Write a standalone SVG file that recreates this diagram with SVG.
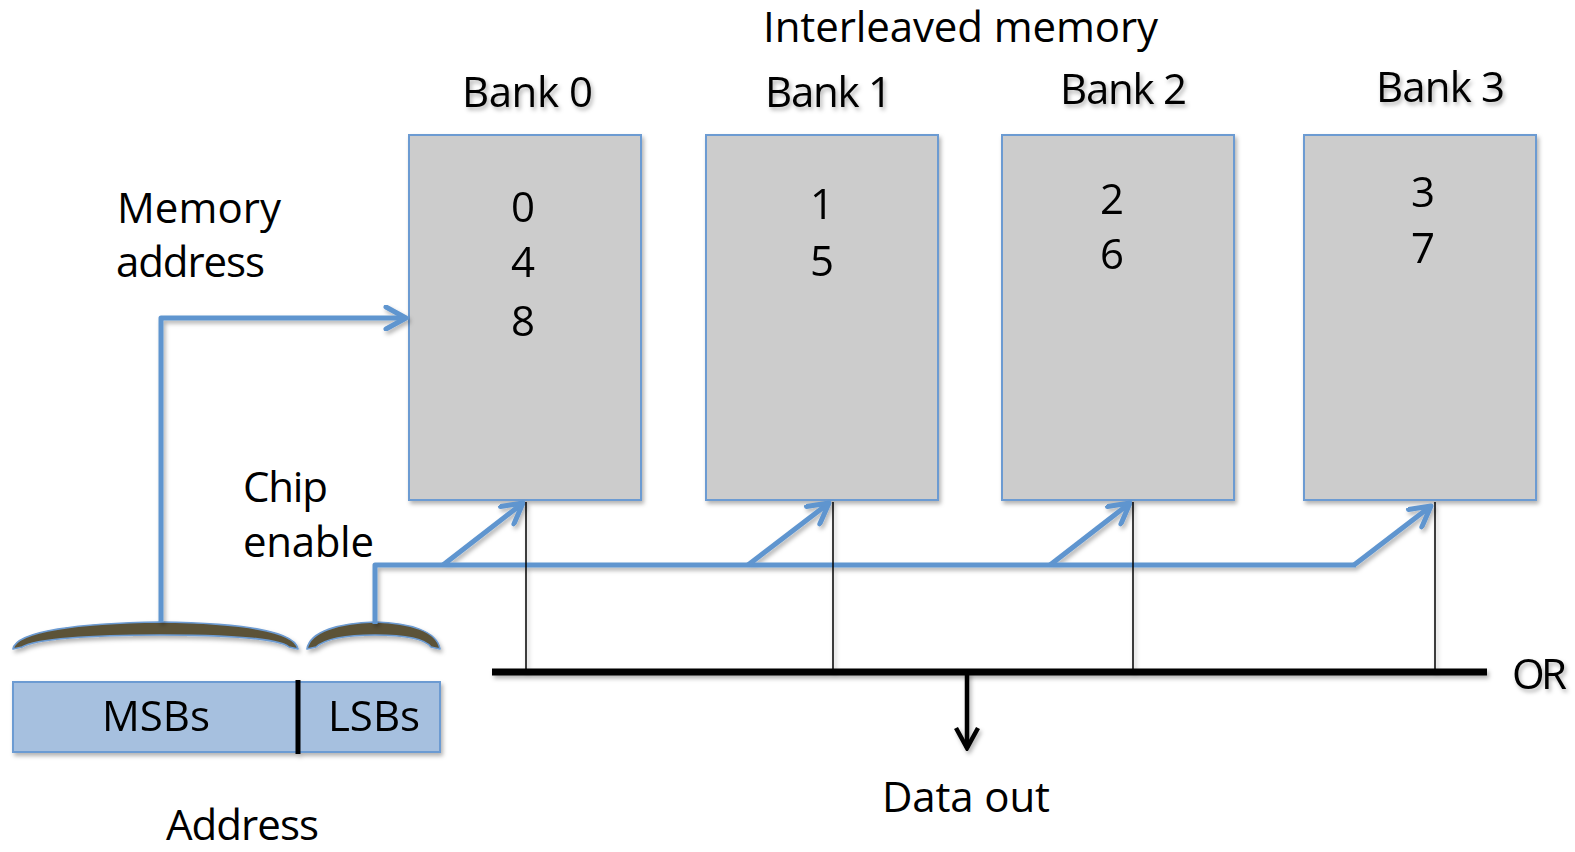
<svg xmlns="http://www.w3.org/2000/svg" width="1575" height="852" viewBox="0 0 1575 852">
  <style>
    text { font-family: "Open Sans", "Noto Sans", "Liberation Sans", sans-serif; font-size: 42px; fill: #000; }
    .mid { text-anchor: middle; }
    .bank { fill: #cccccc; stroke: #6c9bd2; stroke-width: 2; }
    .blue { fill: none; stroke: #5f95cf; stroke-width: 5; stroke-linejoin: round; }
    .thin { fill: none; stroke: #000; stroke-width: 1.5; }
    .field { fill: #a6c0df; stroke: #6c9bd2; stroke-width: 2; }
    .brace { fill: #5c5238; stroke: #6c9bd2; stroke-width: 1.6; stroke-linejoin: round; }
  </style>
  <defs>
    <filter id="shadow" x="-10%" y="-10%" width="130%" height="140%">
      <feDropShadow dx="2" dy="3" stdDeviation="2" flood-color="#000" flood-opacity="0.3"/>
    </filter>
    <marker id="blueArrow" markerUnits="userSpaceOnUse" viewBox="0 0 26 26" refX="23" refY="13" markerWidth="26" markerHeight="26" orient="auto">
      <path d="M3,2 L23,13 L3,24" fill="none" stroke="#5f95cf" stroke-width="5" stroke-linecap="round" stroke-linejoin="round"/>
    </marker>
    <marker id="blackArrow" markerUnits="userSpaceOnUse" viewBox="0 0 26 26" refX="23" refY="13" markerWidth="26" markerHeight="26" orient="auto">
      <path d="M3,2 L23,13 L3,24" fill="none" stroke="#000" stroke-width="4.5" stroke-linejoin="miter"/>
    </marker>
  </defs>

  <!-- Titles -->
  <text id="title" x="763" y="42" textLength="395">Interleaved memory</text>

  <!-- Memory banks -->
  <g id="bank0" filter="url(#shadow)">
    <rect class="bank" x="409" y="135" width="232" height="365"/>
    <text x="462" y="107" textLength="131">Bank 0</text>
    <text class="mid" x="523" y="222">0</text>
    <text class="mid" x="523" y="277">4</text>
    <text class="mid" x="523" y="336">8</text>
  </g>
  <g id="bank1" filter="url(#shadow)">
    <rect class="bank" x="706" y="135" width="232" height="365"/>
    <text x="765" y="107" textLength="127">Bank 1</text>
    <text class="mid" x="822" y="219">1</text>
    <text class="mid" x="822" y="276">5</text>
  </g>
  <g id="bank2" filter="url(#shadow)">
    <rect class="bank" x="1002" y="135" width="232" height="365"/>
    <text x="1060" y="104" textLength="127">Bank 2</text>
    <text class="mid" x="1112" y="214">2</text>
    <text class="mid" x="1112" y="269">6</text>
  </g>
  <g id="bank3" filter="url(#shadow)">
    <rect class="bank" x="1304" y="135" width="232" height="365"/>
    <text x="1376" y="102" textLength="129">Bank 3</text>
    <text class="mid" x="1423" y="207">3</text>
    <text class="mid" x="1423" y="263">7</text>
  </g>

  <!-- Side labels -->
  <g id="memory-address-label">
    <text x="117" y="223" textLength="164">Memory</text>
    <text x="116" y="277" textLength="149">address</text>
  </g>
  <g id="chip-enable-label">
    <text x="243" y="502" textLength="85">Chip</text>
    <text x="243" y="557" textLength="131">enable</text>
  </g>

  <!-- Address register -->
  <g id="address" filter="url(#shadow)">
    <rect class="field" x="13" y="682" width="427" height="70"/>
    <line x1="298" y1="680" x2="298" y2="754" stroke="#000" stroke-width="5"/>
    <text class="mid" x="156" y="731">MSBs</text>
    <text class="mid" x="374" y="731">LSBs</text>
  </g>
  <text id="address-label" x="166" y="840" textLength="153">Address</text>

  <!-- Braces over the address fields -->
  <g id="msb-brace" filter="url(#shadow)">
    <path class="brace" d="M13,649 C16,631 80,623 160,622 C240,623 295,631 298,649 L289,647 C280,639 230,635 160,635 C90,635 35,639 22,647 Z"/>
  </g>
  <g id="lsb-brace" filter="url(#shadow)">
    <path class="brace" d="M307,649 C310,631 340,623 375,622 C410,623 437,631 440,649 L431,647 C425,639 405,635 375,635 C345,635 325,639 316,647 Z"/>
  </g>

  <!-- OR bus and output -->
  <g id="or-bus" filter="url(#shadow)">
    <line x1="492" y1="672" x2="1487" y2="672" stroke="#000" stroke-width="7"/>
    <text x="1512" y="689" textLength="55">OR</text>
  </g>
  <g id="data-out">
    <text x="882" y="812" textLength="168">Data out</text>
  </g>

  <!-- Connectors -->
  <g id="connectors" filter="url(#shadow)">
    <!-- memory address path -->
    <polyline class="blue" points="161,622 161,318 406,318" marker-end="url(#blueArrow)"/>
    <!-- chip enable bus -->
    <polyline class="blue" points="375,624 375,565 1356,565"/>
    <line class="blue" x1="443" y1="565" x2="523" y2="503" marker-end="url(#blueArrow)"/>
    <line class="blue" x1="748" y1="565" x2="829" y2="503" marker-end="url(#blueArrow)"/>
    <line class="blue" x1="1050" y1="565" x2="1130" y2="503" marker-end="url(#blueArrow)"/>
    <line class="blue" x1="1354" y1="565" x2="1431" y2="506" marker-end="url(#blueArrow)"/>
    <!-- bank outputs to OR bus -->
    <line class="thin" x1="526" y1="502" x2="526" y2="672"/>
    <line class="thin" x1="833" y1="502" x2="833" y2="672"/>
    <line class="thin" x1="1133" y1="502" x2="1133" y2="672"/>
    <line class="thin" x1="1435" y1="502" x2="1435" y2="672"/>
    <!-- data out -->
    <line x1="967" y1="672" x2="967" y2="748" stroke="#000" stroke-width="4.5" marker-end="url(#blackArrow)"/>
  </g>
</svg>
